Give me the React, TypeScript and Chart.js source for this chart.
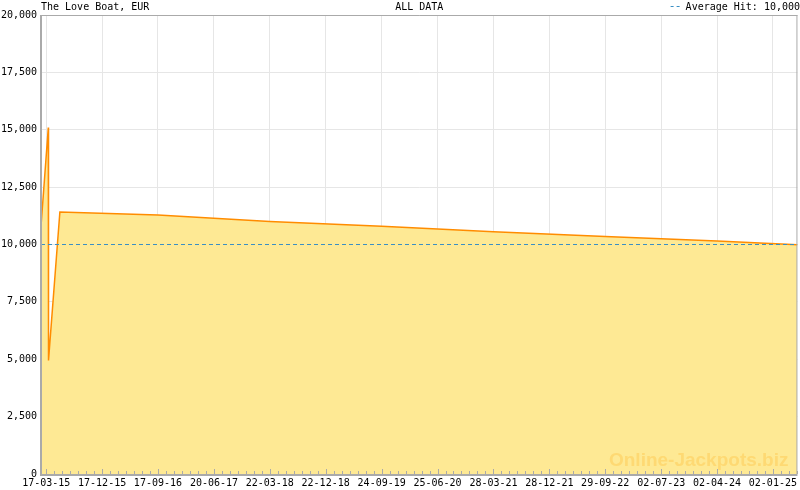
import React, { useEffect, useRef } from "react";
import { Chart, registerables } from "chart.js";

Chart.register(...registerables);

const titleText = "The Love Boat, EUR";
const centerText = "ALL DATA";
const averageLabel = "Average Hit: 10,000";
const watermarkText = "Online-Jackpots.biz";

const tickLabels = [
  "17-03-15", "17-12-15", "17-09-16", "20-06-17", "22-03-18", "22-12-18", "24-09-19",
  "25-06-20", "28-03-21", "28-12-21", "29-09-22", "02-07-23", "02-04-24", "02-01-25",
];

const seriesDates = [
  "19-02-15", "27-03-15", "28-03-15", "23-05-15", "17-09-16", "22-03-18",
  "24-09-19", "28-03-21", "29-09-22", "02-04-24", "03-05-25",
];
const seriesValues = [10800, 15100, 4950, 11420, 11280, 11000, 10800, 10560, 10350, 10150, 9990];

const averageValue = 10000;
const axisStart = "19-02-15";
const axisEnd = "03-05-25";
const yTicksMax = 20000;
const yStep = 2500;

const parseDay = (s: string) => {
  const [d, m, y] = s.split("-").map(Number);
  return Date.UTC(2000 + y, m - 1, d) / 86400000;
};

const FONT = "DejaVu Sans Mono";

export default function App() {
  const ref = useRef<HTMLCanvasElement | null>(null);

  useEffect(() => {
    document.body.style.margin = "0";
    const canvas = ref.current!;
    const xMin = parseDay(axisStart);
    const xMax = parseDay(axisEnd);
    const tickDays = tickLabels.map(parseDay);

    const framePlugin = {
      id: "frame",
      afterDatasetsDraw(chart: any) {
        const { ctx, chartArea } = chart;
        const { left, right, top, bottom } = chartArea;
        const xs = chart.scales.x;
        ctx.save();
        ctx.strokeStyle = "#aaaaaa";
        ctx.lineWidth = 1;
        const interval = tickDays.length > 1 ? (tickDays[tickDays.length - 1] - tickDays[0]) / (tickDays.length - 1) : 275;
        const minor = interval / 7;
        for (let v = tickDays[0] - minor * 20; v <= xMax; v += minor) {
          if (v < xMin) continue;
          const px = Math.round(xs.getPixelForValue(v)) + 0.5;
          const k = Math.round((v - tickDays[0]) / minor);
          const len = k % 7 === 0 ? 5 : 3;
          ctx.beginPath();
          ctx.moveTo(px, bottom);
          ctx.lineTo(px, bottom - len);
          ctx.stroke();
        }
        ctx.strokeStyle = "#aaaaaa";
        ctx.lineWidth = 1;
        ctx.beginPath();
        ctx.moveTo(left, top + 0.5);
        ctx.lineTo(right, top + 0.5);
        ctx.moveTo(right - 0.5, top);
        ctx.lineTo(right - 0.5, bottom);
        ctx.stroke();
        ctx.lineWidth = 2;
        ctx.beginPath();
        ctx.moveTo(left, top);
        ctx.lineTo(left, bottom + 1);
        ctx.moveTo(left - 1, bottom + 1);
        ctx.lineTo(right, bottom + 1);
        ctx.stroke();

        ctx.font = "bold 19px 'Liberation Sans', Arial, sans-serif";
        ctx.fillStyle = "rgba(255, 195, 70, 0.42)";
        ctx.textAlign = "right";
        ctx.textBaseline = "alphabetic";
        ctx.fillText(watermarkText, right - 9, bottom - 8);

        ctx.font = `10px '${FONT}'`;
        ctx.fillStyle = "#000000";
        ctx.textAlign = "left";
        ctx.fillText(titleText, left, 10);
        ctx.textAlign = "center";
        ctx.fillText(centerText, (left + right) / 2, 10);
        ctx.textAlign = "right";
        ctx.fillText(averageLabel, chart.width, 10);
        const w = ctx.measureText(averageLabel).width;
        const lx = chart.width - w - 4;
        ctx.strokeStyle = "#3a8fc4";
        ctx.lineWidth = 1;
        ctx.setLineDash([3, 3]);
        ctx.beginPath();
        ctx.moveTo(lx - 11, 6.5);
        ctx.lineTo(lx, 6.5);
        ctx.stroke();
        ctx.restore();
      },
    };

    const chart = new Chart(canvas, {
      type: "line",
      data: {
        datasets: [
          {
            label: "Average",
            data: [
              { x: xMin, y: averageValue },
              { x: xMax, y: averageValue },
            ],
            borderColor: "#3a8fc4",
            borderWidth: 1,
            borderDash: [4, 3],
            pointRadius: 0,
            fill: false,
            order: 0,
          },
          {
            label: "Hits",
            data: seriesDates.map((d, i) => ({ x: parseDay(d), y: seriesValues[i] })),
            borderColor: "#ff8c00",
            backgroundColor: "#fee994",
            borderWidth: 1.5,
            pointRadius: 0,
            fill: "origin",
            tension: 0,
            order: 1,
          },
        ],
      },
      options: {
        animation: false,
        responsive: false,
        maintainAspectRatio: false,
        layout: { padding: { top: 15, right: 1, left: 0, bottom: 0 } },
        plugins: { legend: { display: false }, tooltip: { enabled: false }, title: { display: false } },
        scales: {
          x: {
            type: "linear",
            min: xMin,
            max: xMax,
            afterFit: (s: any) => {
              s.height = 16;
            },
            afterBuildTicks: (s: any) => {
              s.ticks = tickDays.map((v) => ({ value: v }));
            },
            ticks: {
              autoSkip: false,
              maxRotation: 0,
              minRotation: 0,
              padding: 3,
              color: "#000000",
              font: { family: FONT, size: 10 },
              callback: (v: any) => {
                const i = tickDays.indexOf(Number(v));
                return i >= 0 ? tickLabels[i] : "";
              },
            },
            grid: { color: "#e6e6e6", drawTicks: false, lineWidth: 1 },
            border: { display: false },
          },
          y: {
            min: 0,
            max: yTicksMax,
            afterFit: (s: any) => {
              s.width = 41;
            },
            ticks: {
              stepSize: yStep,
              padding: 4,
              color: "#000000",
              font: { family: FONT, size: 10 },
              callback: (v: any) => Number(v).toLocaleString("en-US"),
            },
            grid: { color: "#e6e6e6", drawTicks: false, lineWidth: 1 },
            border: { display: false },
          },
        },
      },
      plugins: [framePlugin],
    });
    return () => chart.destroy();
  }, []);

  return (
    <div style={{ width: 800, height: 490 }}>
      <canvas ref={ref} width={800} height={490} style={{ display: "block" }} />
    </div>
  );
}
